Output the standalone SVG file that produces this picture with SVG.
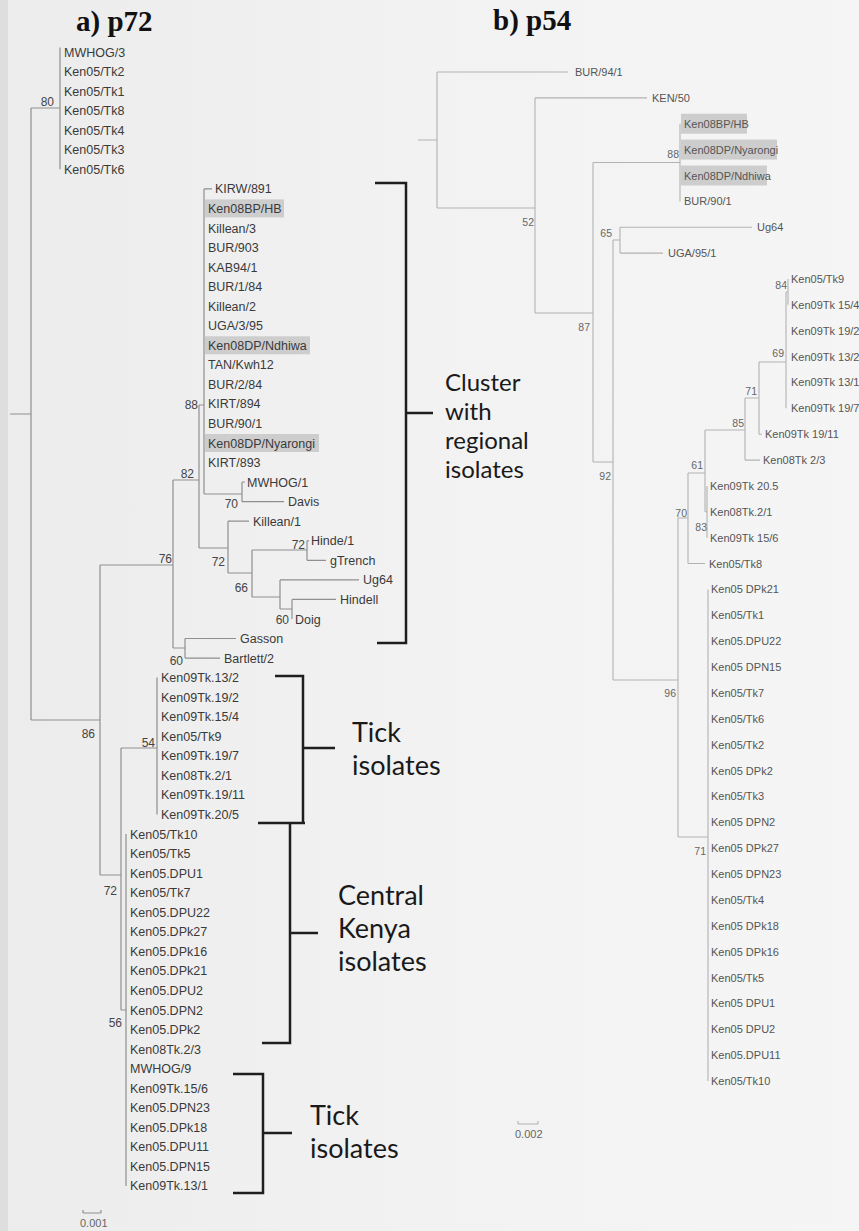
<svg xmlns="http://www.w3.org/2000/svg" width="859" height="1231" viewBox="0 0 859 1231">
<defs>
<linearGradient id="bg" x1="0" y1="0" x2="1" y2="0">
<stop offset="0" stop-color="#ececec"/>
<stop offset="0.5" stop-color="#f2f2f2"/>
<stop offset="1" stop-color="#f5f5f5"/>
</linearGradient>
<style>
.br{stroke:#8f8f8f;stroke-width:1.2;fill:none}
.rb{stroke:#b2b2b2;stroke-width:1.1;fill:none}
.lab{font-family:"Liberation Sans",Arial,sans-serif;font-size:12.5px;fill:#3a3a3a}
.rlab{font-family:"Liberation Sans",Arial,sans-serif;font-size:11px;fill:#555}
.bs{font-family:"Liberation Sans",Arial,sans-serif;font-size:12px;fill:#444;text-anchor:end}
.rbs{font-family:"Liberation Sans",Arial,sans-serif;font-size:10.5px;fill:#666;text-anchor:end}
.hl{fill:#cdcdcd}
.brk{stroke:#1e1e1e;stroke-width:2.5;fill:none}
.ann{font-family:Lato,"Open Sans",sans-serif;font-size:27px;fill:#1a1a1a}
.ann2{font-family:Lato,"Open Sans",sans-serif;font-size:24px;fill:#1a1a1a}
.ttl{font-family:"Liberation Serif","Times New Roman",serif;font-size:29px;font-weight:bold;fill:#111}
.sc{font-family:"Liberation Sans",Arial,sans-serif;font-size:11px;fill:#666}
</style>
</defs>
<rect width="859" height="1231" fill="url(#bg)"/>
<rect x="0" y="0" width="8" height="1231" fill="#dedede"/>

<g id="titles">
<text class="ttl" x="76" y="31">a) p72</text>
<text class="ttl" x="493" y="30">b) p54</text>
</g>

<g id="highlights">
<rect class="hl" x="205" y="199.4" width="79" height="18"/>
<rect class="hl" x="205" y="336.3" width="105" height="18"/>
<rect class="hl" x="205" y="434" width="114" height="18"/>
<rect class="hl" x="681" y="113.7" width="66" height="20"/>
<rect class="hl" x="681" y="139.6" width="96" height="20"/>
<rect class="hl" x="681" y="165.5" width="86" height="20"/>
</g>

<g id="connectors">
<path class="br" d="M10,414H31 M31,108V720 M31,108H60 M60,47.5V169.3 M31,720H100 M100,565V875 M100,565H173 M173,480V648 M173,480H199 M199,405V548 M199,405H204 M204,188.9V494 M204,188.9H212 M204,494H242 M242,482V501.7 M242,482H245 M242,501.7H284 M199,548H228 M228,521.2V573 M228,521.2H249 M228,573H252 M252,550V597 M252,550H307 M307,540.8V560.3 M307,540.8H309 M307,560.3H326 M252,597H280 M280,579.9V609 M280,579.9H359 M280,609H292 M292,599.4V619 M292,599.4H336 M173,648H185 M185,638.5V658.1 M185,638.5H236 M185,658.1H220 M100,875H121 M121,748V1010 M121,748H157 M157,677.6V814.5 M121,1010H126 M126,834V1186"/>
<path class="rb" d="M418,140H437 M437,72V208 M437,72H568 M437,208H535 M535,97.9V313 M535,97.9H647 M535,313H593 M593,162.5V462 M593,162.5H680 M680,123.7V201.4 M593,462H613 M613,240V680 M613,240H620 M620,227.2V253.1 M620,227.2H752 M620,253.1H663 M613,680H678 M678,518V837 M678,518H688 M688,473V563.5 M688,563.5H705 M688,473H705 M705,430V511.8 M705,511.8H707 M707,485.9V537.7 M705,430H745 M745,398V460.1 M745,460.1H760 M745,398H759 M759,362V434.2 M759,434.2H762 M759,362H786 M786,292V408.3 M786,292H788 M788,279V304.8 M678,837H708 M708,589.4V1081"/>
</g>

<g id="brackets">
<path class="brk" d="M375,183H406V643H377 M406,413H433"/>
<path class="brk" d="M275,676H303V823 M258,823H305 M303,748H335"/>
<path class="brk" d="M290,823V1043H262 M290,933H318"/>
<path class="brk" d="M233,1074H263V1193H233 M263,1133H292"/>
</g>

<g id="annotations">
<g id="ann-cluster"><text class="ann2" x="445" y="391">Cluster</text><text class="ann2" x="445" y="420">with</text><text class="ann2" x="445" y="449">regional</text><text class="ann2" x="445" y="478">isolates</text></g>
<g id="ann-tick1"><text class="ann" x="352" y="742">Tick</text><text class="ann" x="352" y="775">isolates</text></g>
<g id="ann-central"><text class="ann" x="338" y="905">Central</text><text class="ann" x="338" y="938">Kenya</text><text class="ann" x="338" y="971">isolates</text></g>
<g id="ann-tick2"><text class="ann" x="310" y="1125">Tick</text><text class="ann" x="310" y="1158">isolates</text></g>
</g>

<g id="bootstrap-a">
<text class="bs" x="54" y="106">80</text>
<text class="bs" x="198" y="409">88</text>
<text class="bs" x="194" y="478">82</text>
<text class="bs" x="238" y="508">70</text>
<text class="bs" x="172" y="563">76</text>
<text class="bs" x="225" y="566">72</text>
<text class="bs" x="305" y="549">72</text>
<text class="bs" x="248" y="592">66</text>
<text class="bs" x="289" y="624">60</text>
<text class="bs" x="183" y="665">60</text>
<text class="bs" x="95" y="738">86</text>
<text class="bs" x="155" y="747">54</text>
<text class="bs" x="117" y="895">72</text>
<text class="bs" x="122" y="1027">56</text>
</g>

<g id="bootstrap-b">
<text class="rbs" x="534" y="226">52</text>
<text class="rbs" x="679" y="158">88</text>
<text class="rbs" x="612" y="237">65</text>
<text class="rbs" x="590" y="331">87</text>
<text class="rbs" x="787" y="289">84</text>
<text class="rbs" x="784" y="357">69</text>
<text class="rbs" x="757" y="395">71</text>
<text class="rbs" x="744" y="427">85</text>
<text class="rbs" x="703" y="469">61</text>
<text class="rbs" x="611" y="480">92</text>
<text class="rbs" x="687" y="517">70</text>
<text class="rbs" x="707" y="531">83</text>
<text class="rbs" x="676" y="697">96</text>
<text class="rbs" x="706" y="855">71</text>
</g>

<g id="tree-a-leaves">
<g id="a1"><text class="lab" x="64" y="56.5">MWHOG/3</text></g>
<g id="a2"><text class="lab" x="64" y="76.1">Ken05/Tk2</text></g>
<g id="a3"><text class="lab" x="64" y="95.6">Ken05/Tk1</text></g>
<g id="a4"><text class="lab" x="64" y="115.2">Ken05/Tk8</text></g>
<g id="a5"><text class="lab" x="64" y="134.7">Ken05/Tk4</text></g>
<g id="a6"><text class="lab" x="64" y="154.3">Ken05/Tk3</text></g>
<g id="a7"><text class="lab" x="64" y="173.8">Ken05/Tk6</text></g>
<g id="a8"><text class="lab" x="215" y="193.4">KIRW/891</text></g>
<g id="a9"><text class="lab" x="208" y="212.9">Ken08BP/HB</text></g>
<g id="a10"><text class="lab" x="208" y="232.5">Killean/3</text></g>
<g id="a11"><text class="lab" x="208" y="252">BUR/903</text></g>
<g id="a12"><text class="lab" x="208" y="271.6">KAB94/1</text></g>
<g id="a13"><text class="lab" x="208" y="291.1">BUR/1/84</text></g>
<g id="a14"><text class="lab" x="208" y="310.7">Killean/2</text></g>
<g id="a15"><text class="lab" x="208" y="330.2">UGA/3/95</text></g>
<g id="a16"><text class="lab" x="208" y="349.8">Ken08DP/Ndhiwa</text></g>
<g id="a17"><text class="lab" x="208" y="369.3">TAN/Kwh12</text></g>
<g id="a18"><text class="lab" x="208" y="388.9">BUR/2/84</text></g>
<g id="a19"><text class="lab" x="208" y="408.4">KIRT/894</text></g>
<g id="a20"><text class="lab" x="208" y="428">BUR/90/1</text></g>
<g id="a21"><text class="lab" x="208" y="447.5">Ken08DP/Nyarongi</text></g>
<g id="a22"><text class="lab" x="208" y="467.1">KIRT/893</text></g>
<g id="a23"><text class="lab" x="247" y="486.6">MWHOG/1</text></g>
<g id="a24"><text class="lab" x="288" y="506.2">Davis</text></g>
<g id="a25"><text class="lab" x="253" y="525.7">Killean/1</text></g>
<g id="a26"><text class="lab" x="311" y="545.3">Hinde/1</text></g>
<g id="a27"><text class="lab" x="330" y="564.8">gTrench</text></g>
<g id="a28"><text class="lab" x="363" y="584.4">Ug64</text></g>
<g id="a29"><text class="lab" x="340" y="603.9">Hindell</text></g>
<g id="a30"><text class="lab" x="295" y="623.5">Doig</text></g>
<g id="a31"><text class="lab" x="240" y="643">Gasson</text></g>
<g id="a32"><text class="lab" x="224" y="662.6">Bartlett/2</text></g>
<g id="a33"><text class="lab" x="161" y="682.1">Ken09Tk.13/2</text></g>
<g id="a34"><text class="lab" x="161" y="701.7">Ken09Tk.19/2</text></g>
<g id="a35"><text class="lab" x="161" y="721.2">Ken09Tk.15/4</text></g>
<g id="a36"><text class="lab" x="161" y="740.8">Ken05/Tk9</text></g>
<g id="a37"><text class="lab" x="161" y="760.3">Ken09Tk.19/7</text></g>
<g id="a38"><text class="lab" x="161" y="779.9">Ken08Tk.2/1</text></g>
<g id="a39"><text class="lab" x="161" y="799.4">Ken09Tk.19/11</text></g>
<g id="a40"><text class="lab" x="161" y="819">Ken09Tk.20/5</text></g>
<g id="a41"><text class="lab" x="130" y="838.5">Ken05/Tk10</text></g>
<g id="a42"><text class="lab" x="130" y="858.1">Ken05/Tk5</text></g>
<g id="a43"><text class="lab" x="130" y="877.6">Ken05.DPU1</text></g>
<g id="a44"><text class="lab" x="130" y="897.2">Ken05/Tk7</text></g>
<g id="a45"><text class="lab" x="130" y="916.7">Ken05.DPU22</text></g>
<g id="a46"><text class="lab" x="130" y="936.3">Ken05.DPk27</text></g>
<g id="a47"><text class="lab" x="130" y="955.8">Ken05.DPk16</text></g>
<g id="a48"><text class="lab" x="130" y="975.4">Ken05.DPk21</text></g>
<g id="a49"><text class="lab" x="130" y="994.9">Ken05.DPU2</text></g>
<g id="a50"><text class="lab" x="130" y="1014.5">Ken05.DPN2</text></g>
<g id="a51"><text class="lab" x="130" y="1034">Ken05.DPk2</text></g>
<g id="a52"><text class="lab" x="130" y="1053.6">Ken08Tk.2/3</text></g>
<g id="a53"><text class="lab" x="130" y="1073.1">MWHOG/9</text></g>
<g id="a54"><text class="lab" x="130" y="1092.7">Ken09Tk.15/6</text></g>
<g id="a55"><text class="lab" x="130" y="1112.2">Ken05.DPN23</text></g>
<g id="a56"><text class="lab" x="130" y="1131.8">Ken05.DPk18</text></g>
<g id="a57"><text class="lab" x="130" y="1151.3">Ken05.DPU11</text></g>
<g id="a58"><text class="lab" x="130" y="1170.9">Ken05.DPN15</text></g>
<g id="a59"><text class="lab" x="130" y="1190.4">Ken09Tk.13/1</text></g>
</g>

<g id="tree-b-leaves">
<g id="b0"><text class="rlab" x="575" y="76">BUR/94/1</text></g>
<g id="b1"><text class="rlab" x="652" y="101.9">KEN/50</text></g>
<g id="b2"><text class="rlab" x="684" y="127.7">Ken08BP/HB</text></g>
<g id="b3"><text class="rlab" x="684" y="153.6">Ken08DP/Nyarongi</text></g>
<g id="b4"><text class="rlab" x="684" y="179.5">Ken08DP/Ndhiwa</text></g>
<g id="b5"><text class="rlab" x="684" y="205.4">BUR/90/1</text></g>
<g id="b6"><text class="rlab" x="757" y="231.2">Ug64</text></g>
<g id="b7"><text class="rlab" x="668" y="257.1">UGA/95/1</text></g>
<g id="b8"><text class="rlab" x="791" y="283">Ken05/Tk9</text></g>
<g id="b9"><text class="rlab" x="791" y="308.8">Ken09Tk 15/4</text></g>
<g id="b10"><text class="rlab" x="791" y="334.7">Ken09Tk 19/2</text></g>
<g id="b11"><text class="rlab" x="791" y="360.6">Ken09Tk 13/2</text></g>
<g id="b12"><text class="rlab" x="791" y="386.4">Ken09Tk 13/1</text></g>
<g id="b13"><text class="rlab" x="791" y="412.3">Ken09Tk 19/7</text></g>
<g id="b14"><text class="rlab" x="765" y="438.2">Ken09Tk 19/11</text></g>
<g id="b15"><text class="rlab" x="763" y="464.1">Ken08Tk 2/3</text></g>
<g id="b16"><text class="rlab" x="710" y="489.9">Ken09Tk 20.5</text></g>
<g id="b17"><text class="rlab" x="710" y="515.8">Ken08Tk.2/1</text></g>
<g id="b18"><text class="rlab" x="710" y="541.7">Ken09Tk 15/6</text></g>
<g id="b19"><text class="rlab" x="709" y="567.5">Ken05/Tk8</text></g>
<g id="b20"><text class="rlab" x="711" y="593.4">Ken05 DPk21</text></g>
<g id="b21"><text class="rlab" x="711" y="619.3">Ken05/Tk1</text></g>
<g id="b22"><text class="rlab" x="711" y="645.1">Ken05.DPU22</text></g>
<g id="b23"><text class="rlab" x="711" y="671">Ken05 DPN15</text></g>
<g id="b24"><text class="rlab" x="711" y="696.9">Ken05/Tk7</text></g>
<g id="b25"><text class="rlab" x="711" y="722.8">Ken05/Tk6</text></g>
<g id="b26"><text class="rlab" x="711" y="748.6">Ken05/Tk2</text></g>
<g id="b27"><text class="rlab" x="711" y="774.5">Ken05 DPk2</text></g>
<g id="b28"><text class="rlab" x="711" y="800.4">Ken05/Tk3</text></g>
<g id="b29"><text class="rlab" x="711" y="826.2">Ken05 DPN2</text></g>
<g id="b30"><text class="rlab" x="711" y="852.1">Ken05 DPk27</text></g>
<g id="b31"><text class="rlab" x="711" y="878">Ken05 DPN23</text></g>
<g id="b32"><text class="rlab" x="711" y="903.8">Ken05/Tk4</text></g>
<g id="b33"><text class="rlab" x="711" y="929.7">Ken05 DPk18</text></g>
<g id="b34"><text class="rlab" x="711" y="955.6">Ken05 DPk16</text></g>
<g id="b35"><text class="rlab" x="711" y="981.5">Ken05/Tk5</text></g>
<g id="b36"><text class="rlab" x="711" y="1007.3">Ken05 DPU1</text></g>
<g id="b37"><text class="rlab" x="711" y="1033.2">Ken05 DPU2</text></g>
<g id="b38"><text class="rlab" x="711" y="1059.1">Ken05.DPU11</text></g>
<g id="b39"><text class="rlab" x="711" y="1084.9">Ken05/Tk10</text></g>
</g>

<g id="scale-a">
<path class="br" d="M83,1213H101 M83,1210V1213 M101,1210V1213"/>
<text class="sc" x="80" y="1227">0.001</text>
</g>
<g id="scale-b">
<path class="rb" d="M518,1124H538 M518,1121V1124 M538,1121V1124"/>
<text class="sc" x="515" y="1138">0.002</text>
</g>
</svg>
